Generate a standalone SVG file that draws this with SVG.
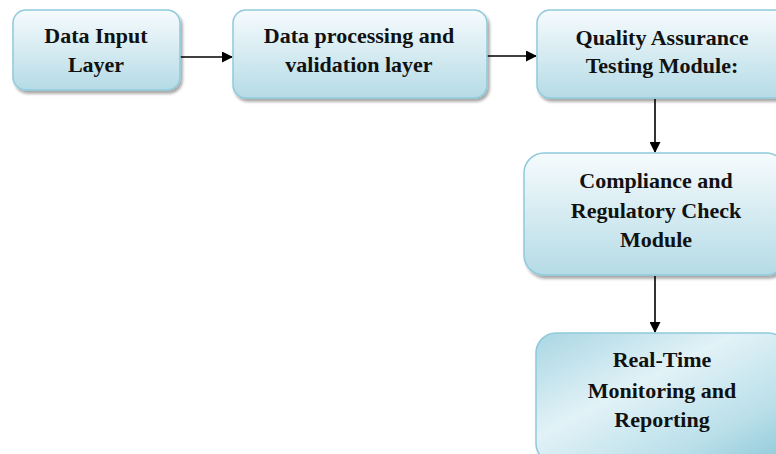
<svg xmlns="http://www.w3.org/2000/svg" width="776" height="454" viewBox="0 0 776 454">
<defs>
<linearGradient id="g" x1="0" y1="0" x2="0" y2="1">
<stop offset="0" stop-color="#f6fbfd"/>
<stop offset="1" stop-color="#b5dbe6"/>
</linearGradient>
<linearGradient id="g5" x1="0" y1="0" x2="1" y2="1">
<stop offset="0" stop-color="#a9d6e3"/>
<stop offset="0.4" stop-color="#e2f2f7"/>
<stop offset="0.75" stop-color="#b9dfe9"/>
<stop offset="1" stop-color="#8cc8d8"/>
</linearGradient>
<filter id="sh" x="-10%" y="-10%" width="130%" height="130%">
<feGaussianBlur in="SourceAlpha" stdDeviation="1.5"/>
<feOffset dx="2" dy="3"/>
<feComponentTransfer><feFuncA type="linear" slope="0.35"/></feComponentTransfer>
<feMerge><feMergeNode/><feMergeNode in="SourceGraphic"/></feMerge>
</filter>
<marker id="ah" markerWidth="11" markerHeight="11" refX="10" refY="5.5" orient="auto" markerUnits="userSpaceOnUse">
<path d="M0,0 L11,5.5 L0,11 Z" fill="#000"/>
</marker>
</defs>
<style>
.box{fill:url(#g);stroke:#8fcadb;stroke-width:1.5;filter:url(#sh)}
.t{font-family:"Liberation Serif","Times New Roman",serif;font-weight:bold;font-size:22px;fill:#111;text-anchor:middle}
.c{stroke:#000;stroke-width:1.6;fill:none;marker-end:url(#ah)}
</style>
<g id="connectors">
<line class="c" x1="180" y1="57" x2="232" y2="57"/>
<line class="c" x1="487" y1="56" x2="536" y2="56"/>
<line class="c" x1="655" y1="99" x2="655" y2="152"/>
<line class="c" x1="655" y1="276" x2="655" y2="332"/>
</g>
<g id="n1">
<rect class="box" x="13" y="10" width="167" height="80" rx="13"/>
<text class="t" x="96" y="43">Data Input</text>
<text class="t" x="96" y="72">Layer</text>
</g>
<g id="n2">
<rect class="box" x="233" y="10" width="254" height="88" rx="13"/>
<text class="t" x="359" y="43">Data processing and</text>
<text class="t" x="359" y="72">validation layer</text>
</g>
<g id="n3">
<rect class="box" x="537" y="10" width="250" height="88" rx="13"/>
<text class="t" x="662" y="45">Quality Assurance</text>
<text class="t" x="662" y="73">Testing Module:</text>
</g>
<g id="n4">
<rect class="box" x="524" y="153" width="262" height="122" rx="20"/>
<text class="t" x="656" y="188">Compliance and</text>
<text class="t" x="656" y="218">Regulatory Check</text>
<text class="t" x="656" y="247">Module</text>
</g>
<g id="n5">
<rect class="box" x="536" y="333" width="252" height="130" rx="20" style="fill:url(#g5)"/>
<text class="t" x="662" y="367">Real-Time</text>
<text class="t" x="662" y="398">Monitoring and</text>
<text class="t" x="662" y="427">Reporting</text>
</g>
</svg>
